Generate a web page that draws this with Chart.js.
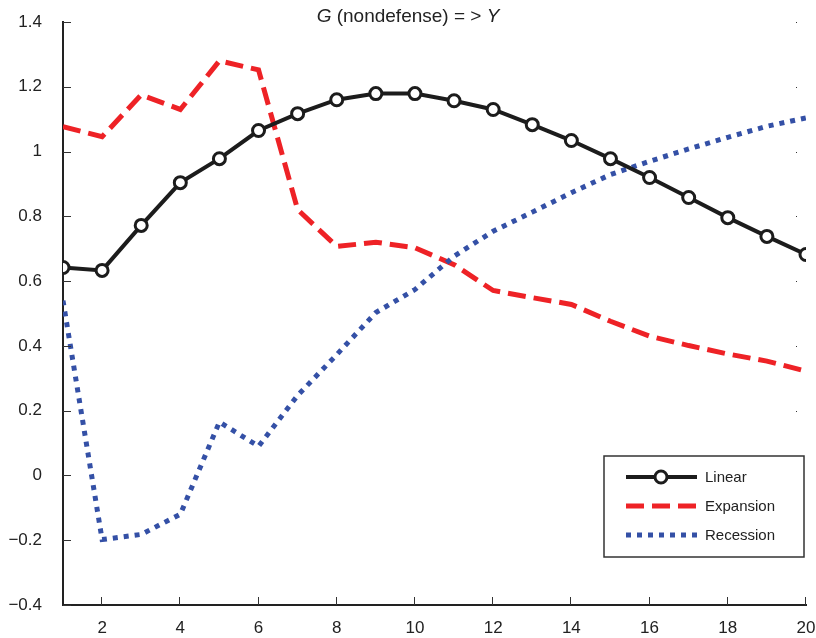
<!DOCTYPE html>
<html>
<head>
<meta charset="utf-8">
<script src="https://cdn.jsdelivr.net/npm/chart.js@4"></script>
<style>
  html, body { margin: 0; padding: 0; background: #fff; }
  #wrap { position: relative; width: 816px; height: 638px; }
  #title { position: absolute; left: 0; top: 5px; width: 816px; text-align: center;
           font-family: "Liberation Sans", Arial, sans-serif; font-size: 19px; color: #222; }
  canvas { position: absolute; left: 0; top: 0; }
</style>
</head>
<body>
<div id="wrap">
  <canvas id="c" width="816" height="638"></canvas>
  <div id="title"><i>G</i> (nondefense) = &gt; <i>Y</i></div>
</div>
<script>
const horizons = [1,2,3,4,5,6,7,8,9,10,11,12,13,14,15,16,17,18,19,20];
const linear = [0.642,0.633,0.772,0.904,0.978,1.065,1.117,1.160,1.179,1.179,1.157,1.130,1.083,1.034,0.978,0.920,0.858,0.796,0.738,0.682];
const expansion = [1.077,1.046,1.175,1.130,1.280,1.252,0.821,0.707,0.720,0.703,0.651,0.571,0.549,0.528,0.476,0.430,0.401,0.375,0.353,0.322];
const recession = [0.540,-0.198,-0.182,-0.120,0.165,0.090,0.247,0.373,0.503,0.574,0.677,0.754,0.813,0.873,0.929,0.970,1.008,1.044,1.078,1.104];
const seriesNames = ['Linear','Expansion','Recession'];
const xTickLabels = [2,4,6,8,10,12,14,16,18,20];
const yTickLabels = [-0.4,-0.2,0,0.2,0.4,0.6,0.8,1,1.2,1.4];

const FONT = '"Liberation Sans", Arial, sans-serif';
const toXY = arr => arr.map((v,i) => ({x: horizons[i], y: v}));

const innerTicks = {
  id: 'innerTicks',
  afterDraw(chart) {
    const ctx = chart.ctx, xs = chart.scales.x, ys = chart.scales.y, a = chart.chartArea;
    ctx.save();
    ctx.strokeStyle = '#333';
    ctx.lineWidth = 1;
    ys.ticks.forEach(t => {
      const y = Math.round(ys.getPixelForValue(t.value)) + 0.5;
      ctx.beginPath(); ctx.moveTo(a.left, y); ctx.lineTo(a.left + 8, y); ctx.stroke();
      if (t.value > -0.39) {
        ctx.fillStyle = '#333';
        ctx.fillRect(a.right - 10, y - 0.5, 1, 1);
      }
    });
    xs.ticks.forEach(t => {
      const x = Math.round(xs.getPixelForValue(t.value)) - 0.5;
      ctx.beginPath(); ctx.moveTo(x, a.bottom); ctx.lineTo(x, a.bottom - 8); ctx.stroke();
    });
    ctx.restore();
  }
};

const boxLegend = {
  id: 'boxLegend',
  afterDraw(chart) {
    const ctx = chart.ctx;
    const bx = 604, by = 456, bw = 200, bh = 101;
    ctx.save();
    ctx.fillStyle = '#fff';
    ctx.fillRect(bx, by, bw, bh);
    ctx.strokeStyle = '#333';
    ctx.lineWidth = 1.5;
    ctx.strokeRect(bx, by, bw, bh);
    chart.data.datasets.forEach((ds, i) => {
      const y = by + 21 + i * 29;
      ctx.strokeStyle = ds.borderColor;
      ctx.lineWidth = ds.borderWidth;
      ctx.setLineDash(ds.borderDash || []);
      ctx.beginPath(); ctx.moveTo(626, y); ctx.lineTo(697, y); ctx.stroke();
      ctx.setLineDash([]);
      if (ds.pointRadius > 0) {
        ctx.beginPath(); ctx.arc(661, y, ds.pointRadius, 0, Math.PI * 2);
        ctx.fillStyle = ds.pointBackgroundColor; ctx.fill();
        ctx.lineWidth = ds.pointBorderWidth; ctx.strokeStyle = ds.pointBorderColor; ctx.stroke();
      }
      ctx.fillStyle = '#222';
      ctx.font = '15px ' + FONT;
      ctx.textBaseline = 'middle';
      ctx.fillText(ds.label, 705, y + 1);
    });
    ctx.restore();
  }
};

new Chart(document.getElementById('c'), {
  type: 'line',
  data: {
    datasets: [
      { label: seriesNames[0], data: toXY(linear), borderColor: '#1c1c1c', borderWidth: 4, order: 0,
        pointRadius: 6, pointBackgroundColor: '#fff', pointBorderColor: '#1c1c1c', pointBorderWidth: 3,
        tension: 0 },
      { label: seriesNames[1], data: toXY(expansion), borderColor: '#ee2226', borderWidth: 5, order: 2,
        borderDash: [18, 8], pointRadius: 0, tension: 0 },
      { label: seriesNames[2], data: toXY(recession), borderColor: '#3450a6', borderWidth: 5, order: 1,
        borderDash: [5, 6], pointRadius: 0, tension: 0 }
    ]
  },
  options: {
    responsive: false,
    animation: false,
    events: [],
    layout: { padding: { top: 22, right: 10, left: 0, bottom: 0 } },
    plugins: { legend: { display: false }, tooltip: { enabled: false }, title: { display: false } },
    scales: {
      x: {
        type: 'linear', min: 1, max: 20,
        afterBuildTicks: s => { s.ticks = xTickLabels.map(v => ({ value: v })); },
        grid: { display: false, drawTicks: false },
        border: { display: true, color: '#222', width: 2 },
        ticks: { padding: 13, color: '#222', font: { family: FONT, size: 17 }, maxRotation: 0 },
        afterFit: s => { s.height = 33; s.paddingLeft = 0; s.paddingRight = 0; }
      },
      y: {
        min: -0.4, max: 1.4,
        afterBuildTicks: s => { s.ticks = yTickLabels.map(v => ({ value: v })); },
        grid: { display: false, drawTicks: false },
        border: { display: true, color: '#222', width: 2 },
        ticks: { padding: 21, color: '#222', font: { family: FONT, size: 17 },
          callback: v => { const r = Math.round(v * 10) / 10; return r < 0 ? '\u2212' + Math.abs(r) : String(r); } },
        afterFit: s => { s.width = 63; s.paddingTop = 0; s.paddingBottom = 0; }
      }
    }
  },
  plugins: [innerTicks, boxLegend]
});
</script>
</body>
</html>
